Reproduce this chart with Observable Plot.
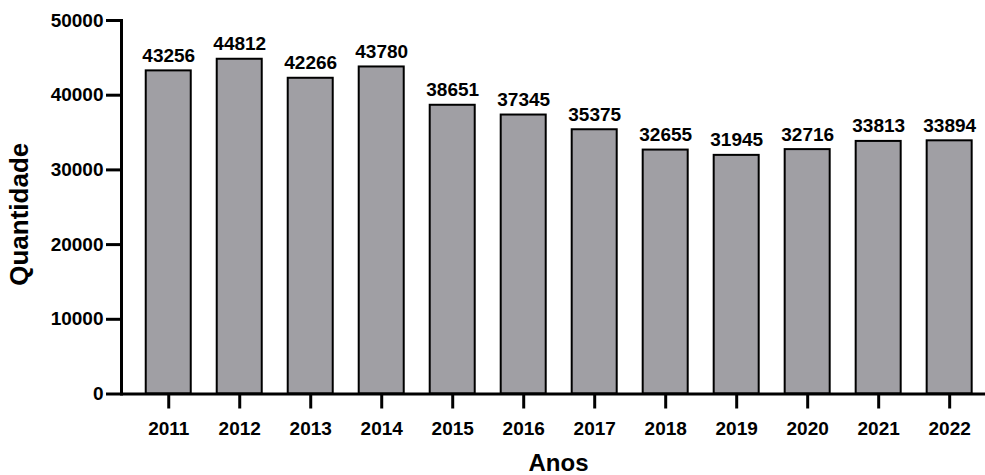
<!DOCTYPE html>
<html>
<head>
<meta charset="utf-8">
<script src="https://cdn.jsdelivr.net/npm/d3@7"></script>
<script src="https://cdn.jsdelivr.net/npm/@observablehq/plot@0.6"></script>
<style>
  html, body { margin: 0; padding: 0; background: #fff; }
  #chart svg { display: block; }
</style>
</head>
<body>
<div id="chart"></div>
<script>
const anos = ["2011", "2012", "2013", "2014", "2015", "2016", "2017", "2018", "2019", "2020", "2021", "2022"];
const quantidade = [43256, 44812, 42266, 43780, 38651, 37345, 35375, 32655, 31945, 32716, 33813, 33894];
const yTicks = [0, 10000, 20000, 30000, 40000, 50000];
const xTitle = "Anos";
const yTitle = "Quantidade";

const data = anos.map((a, i) => ({ano: a, qtd: quantidade[i]}));
const font = "Liberation Sans, Arial, Helvetica, sans-serif";

const chart = Plot.plot({
  width: 985,
  height: 475,
  marginLeft: 121,
  marginRight: 0,
  marginTop: 20,
  marginBottom: 81.5,
  style: {fontFamily: font, background: "#fff", overflow: "visible"},
  x: {type: "band", domain: anos, paddingInner: 0.366, paddingOuter: 0.268, align: 0.65, round: false},
  y: {domain: [0, 50000]},
  marks: [
    Plot.barY(data, {x: "ano", y: "qtd", fill: "#a09fa4", stroke: "#000", strokeWidth: 2}),
    Plot.text(data, {x: "ano", y: "qtd", text: d => String(d.qtd), lineAnchor: "bottom", dy: -9,
      fontSize: 19, fontWeight: "bold", fill: "#000"}),
    Plot.axisY({ticks: yTicks, tickFormat: d3.format("d"), tickSize: 15, tickPadding: 3, strokeWidth: 3,
      fontSize: 19, fontWeight: "bold", label: null, color: "#000"}),
    Plot.axisX({tickSize: 15, tickPadding: 12, strokeWidth: 3, fontSize: 19, fontWeight: "bold", label: null, color: "#000"}),
    Plot.frame({anchor: "left", strokeWidth: 3, stroke: "#000"}),
    Plot.ruleY([0], {strokeWidth: 3, stroke: "#000"}),
    Plot.text([yTitle], {frameAnchor: "left", textAnchor: "middle", rotate: -90, lineAnchor: "top", dx: -112, dy: 7,
      fontSize: 26, fontWeight: "bold", fill: "#000"}),
    Plot.text([xTitle], {frameAnchor: "bottom", textAnchor: "middle", lineAnchor: "bottom", dx: 5, dy: 77,
      fontSize: 24, fontWeight: "bold", fill: "#000"})
  ]
});
document.getElementById("chart").appendChild(chart);
</script>
</body>
</html>
